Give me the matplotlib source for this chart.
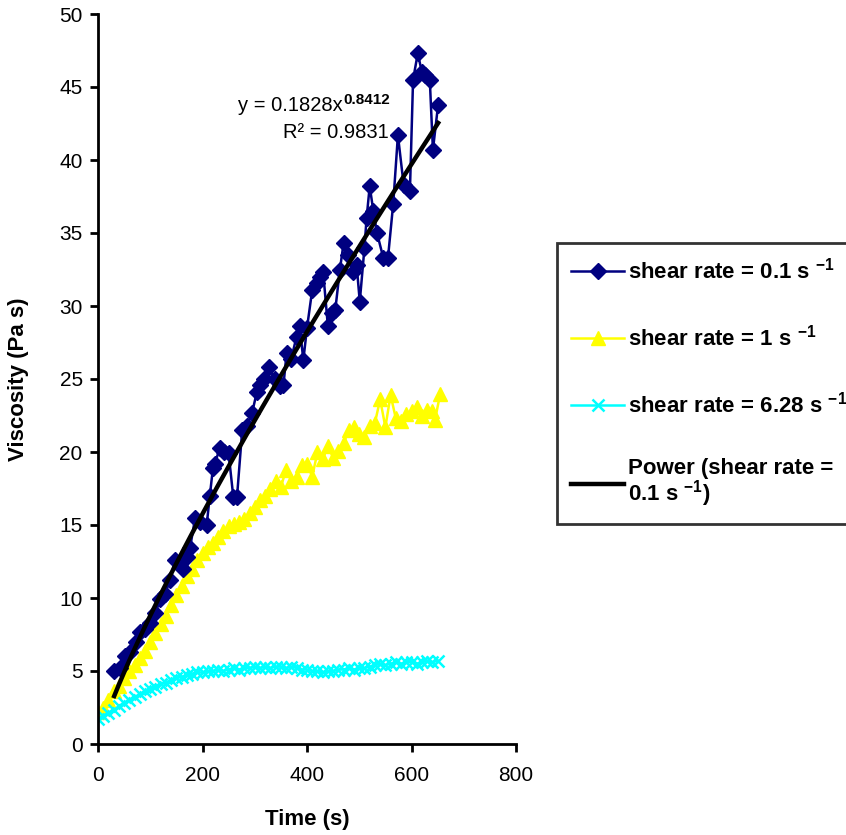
import numpy as np
import matplotlib
matplotlib.use('Agg')
import matplotlib.pyplot as plt

plt.rcParams['font.family'] = ['Liberation Sans', 'DejaVu Sans']
plt.rcParams['mathtext.fontset'] = 'custom'
plt.rcParams['mathtext.rm'] = 'Liberation Sans'
plt.rcParams['mathtext.bf'] = 'Liberation Sans:bold'

# shear rate = 0.1 1/s (navy diamonds)
t_01 = [31, 42, 52, 62, 72, 80, 90, 100, 110, 119, 128, 138, 147, 156, 163, 170,
        176, 186, 196, 208, 214, 220, 224, 233, 241, 250, 259, 266, 276, 285, 295,
        304, 310, 318, 327, 338, 348, 355, 361, 370, 380, 386, 393, 400, 410, 419,
        425, 431, 440, 447, 454, 463, 470, 478, 488, 495, 501, 510, 514, 520, 527,
        534, 546, 555, 565, 574, 585, 597, 603, 612, 620, 626, 635, 641, 651]
v_01 = [5.0, 5.2, 6.0, 6.3, 7.0, 7.7, 7.9, 8.3, 9.0, 9.9, 10.3, 11.2, 12.6, 12.3,
        12.0, 12.8, 13.4, 15.5, 15.2, 15.0, 17.0, 18.9, 19.2, 20.3, 20.0, 19.9,
        16.9, 16.9, 21.5, 21.8, 22.7, 24.1, 24.6, 25.0, 25.8, 25.0, 24.5, 24.6,
        26.8, 26.4, 27.9, 28.6, 26.3, 28.5, 31.1, 31.6, 32.0, 32.3, 28.6, 29.5,
        29.7, 32.5, 34.3, 33.5, 32.3, 32.8, 30.3, 34.0, 36.0, 38.2, 36.5, 35.0,
        33.3, 33.3, 37.0, 41.7, 38.3, 37.9, 45.5, 47.3, 46.0, 45.8, 45.5, 40.7, 43.8]

# shear rate = 1 1/s (yellow triangles)
t_1 = [0, 10, 20, 30, 40, 50, 60, 70, 80, 90, 100, 110, 120, 130, 140, 150, 160,
       170, 180, 190, 200, 210, 220, 230, 240, 250, 260, 270, 280, 290, 300, 310,
       320, 330, 340, 350, 360, 370, 380, 390, 400, 410, 420, 430, 440, 450, 460,
       470, 480, 490, 500, 510, 520, 530, 540, 550, 560, 570, 580, 590, 600, 610,
       620, 630, 640, 645, 655]
v_1 = [2.2, 2.5, 3.0, 3.6, 4.0, 4.5, 5.0, 5.4, 5.9, 6.4, 7.0, 7.6, 8.2, 8.8,
       9.5, 10.2, 10.8, 11.5, 12.0, 12.6, 13.1, 13.5, 13.8, 14.2, 14.6, 14.9,
       15.1, 15.2, 15.4, 15.8, 16.2, 16.7, 17.0, 17.5, 18.0, 17.6, 18.8, 18.0,
       18.3, 19.1, 19.2, 18.3, 20.0, 19.5, 20.4, 19.6, 20.1, 20.6, 21.5, 21.7,
       21.2, 21.0, 21.8, 22.0, 23.6, 21.7, 23.9, 22.3, 22.1, 22.6, 22.8, 23.1,
       22.5, 22.9, 22.8, 22.2, 24.0]

# shear rate = 6.28 1/s (cyan crosses)
t_628 = [0, 10, 20, 30, 40, 50, 60, 70, 80, 90, 100, 110, 120, 130, 140, 150, 160,
         170, 180, 190, 200, 210, 220, 230, 240, 250, 260, 270, 280, 290, 300, 310,
         320, 330, 340, 350, 360, 370, 380, 390, 400, 410, 420, 430, 440, 450, 460,
         470, 480, 490, 500, 510, 520, 530, 540, 550, 560, 570, 580, 590, 600, 610,
         620, 630, 640, 650]
v_628 = [1.7, 1.9, 2.1, 2.3, 2.6, 2.8, 3.0, 3.2, 3.4, 3.6, 3.8, 3.9, 4.1, 4.2, 4.4,
         4.5, 4.6, 4.7, 4.8, 4.9, 4.9, 5.0, 5.0, 5.1, 5.0, 5.1, 5.2, 5.1, 5.2, 5.2,
         5.3, 5.2, 5.3, 5.2, 5.3, 5.3, 5.2, 5.3, 5.2, 5.1, 5.1, 5.0, 5.0, 4.9, 5.0,
         5.0, 5.1, 5.1, 5.2, 5.1, 5.2, 5.2, 5.3, 5.4, 5.5, 5.4, 5.5, 5.6, 5.5, 5.6,
         5.6, 5.5, 5.6, 5.7, 5.6, 5.7]

# power trendline on the 0.1 1/s series, as printed on the chart
fit_a = 0.1828
fit_b = 0.8412
fit_r2 = 0.9831

fig = plt.figure(figsize=(8.46, 8.35), dpi=100)
ax = fig.add_axes([98/846, 91/835, 418/846, 730/835])

ax.plot(t_01, v_01, color='#000080', lw=1.8, marker='D', ms=8.5,
        label=r'shear rate = 0.1 s $^{\mathbf{-1}}$', zorder=3)
ax.plot(t_1, v_1, color='#FFFF00', lw=1.8, marker='^', ms=10,
        label=r'shear rate = 1 s $^{\mathbf{-1}}$', zorder=2)
ax.plot(t_628, v_628, color='#00FFFF', lw=1.8, marker='x', ms=8, mew=1.8,
        label=r'shear rate = 6.28 s $^{\mathbf{-1}}$', zorder=2)

tf = np.linspace(min(t_01), max(t_01), 200)
ax.plot(tf, fit_a * tf ** fit_b, color='black', lw=3.2,
        label='Power (shear rate =\n' + r'0.1 s $^{\mathbf{-1}}$)', zorder=4)

ax.text(469, 43.7, 'y = %.4fx' % fit_a, ha='right', va='center', fontsize=14.5)
ax.text(470, 44.1, '%.4f' % fit_b, ha='left', va='center', fontsize=11, fontweight='bold')
ax.text(557, 41.9, 'R² = %.4f' % fit_r2, ha='right', va='center', fontsize=14.5)

ax.set_xlim(0, 800)
ax.set_ylim(0, 50)
ax.set_xticks(np.arange(0, 801, 200))
ax.set_yticks(np.arange(0, 51, 5))
for s in ['top', 'right']:
    ax.spines[s].set_visible(False)
for s in ['left', 'bottom']:
    ax.spines[s].set_linewidth(2)
ax.tick_params(axis='both', direction='out', length=6, width=2, labelsize=15)
ax.tick_params(axis='x', pad=10)
ax.tick_params(axis='y', pad=5)

ax.set_xlabel('Time (s)', fontsize=16, fontweight='bold')
ax.set_ylabel('Viscosity (Pa s)', fontsize=16, fontweight='bold')
ax.xaxis.set_label_coords(0.5, -0.089)
ax.yaxis.set_label_coords(-0.166, 0.5)

leg = fig.legend(loc='upper left', bbox_to_anchor=(557/846, 1 - 243/835),
                 prop={'weight': 'bold', 'size': 16}, frameon=True, fancybox=False,
                 handlelength=2.35, handletextpad=0.2, labelspacing=1.85,
                 borderpad=0.65, borderaxespad=0)
leg.get_frame().set_edgecolor('black')
leg.get_frame().set_linewidth(2)
for txt in leg.get_texts():
    txt.set_linespacing(0.95)

fig.savefig('out.png', dpi=100)
